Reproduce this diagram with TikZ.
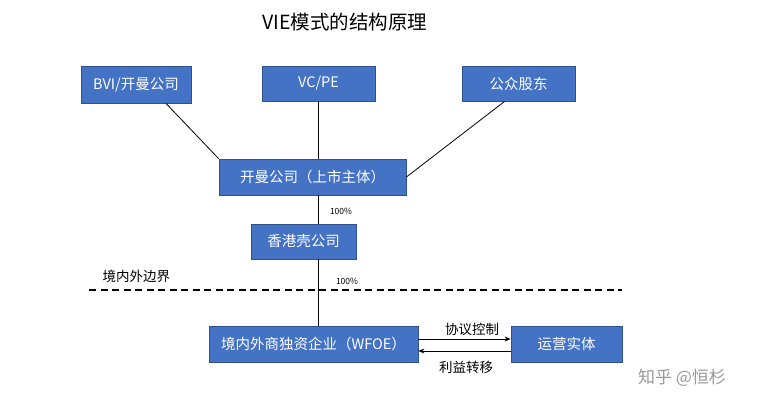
\documentclass[tikz,border=0pt]{standalone}
\usepackage{fontspec}
\setmainfont{Noto Sans CJK SC}
\usetikzlibrary{arrows.meta}
\definecolor{boxblue}{HTML}{4472C4}
\definecolor{boxedge}{HTML}{2F528F}
\tikzset{
  ent/.style={draw=boxedge, fill=boxblue, text=white, font=\fontsize{14.5}{16}\selectfont, inner sep=0pt, line width=0.8pt},
  link/.style={line width=0.8pt, black},
  pct/.style={font=\fontsize{8.5}{10}\selectfont},
  lbl/.style={font=\fontsize{13.5}{15}\selectfont},
  flow/.style={line width=0.8pt, -{Stealth[length=6pt,width=5pt]}}
}
\begin{document}
\begin{tikzpicture}[x=1pt,y=-1pt]
\useasboundingbox[fill=white] (0,0) rectangle (760,408);
\node[font=\fontsize{19.5}{22}\selectfont] (title) at (345,22) {VIE模式的结构原理};
\node[ent, minimum width=110pt, minimum height=37pt] (bvi) at (136,84.5) {BVI/开曼公司};
\node[ent, minimum width=113pt, minimum height=35pt] (vc) at (318.5,83.5) {VC/PE};
\node[ent, minimum width=113pt, minimum height=35pt] (pub) at (518.5,83.5) {公众股东};
\node[ent, minimum width=187pt, minimum height=36pt] (cay) at (312.5,177) {开曼公司（上市主体）};
\node[ent, minimum width=105pt, minimum height=35pt] (hk) at (303.5,241.5) {香港壳公司};
\node[ent, minimum width=209pt, minimum height=36pt] (wfoe) at (313.5,344) {境内外商独资企业（WFOE）};
\node[ent, minimum width=111pt, minimum height=36pt] (ops) at (566.5,344) {运营实体};
\draw[link] (bvi.south) ++(30,0) coordinate (b1) -- (cay.north west);
\draw[link] (vc.south) -- (vc.south |- cay.north);
\draw[link] (pub.south west) ++(43,0) coordinate (p1) -- (cay.east);
\draw[link] (318,195) coordinate (c2) -- (c2 |- hk.north);
\draw[link] (318,259) coordinate (h2) -- (h2 |- wfoe.north);
\node[pct] (p100a) at (341,211) {100\%};
\node[pct] (p100b) at (347,281) {100\%};
\coordinate (dl) at (89,290);
\coordinate (dr) at (622,290);
\draw[line width=1.4pt, dash pattern=on 7pt off 4.5pt] (dl) -- (dr);
\node[lbl, anchor=west] (border) at (99,276) {境内外边界};
\draw[flow] (wfoe.east |- 0,339) -- (ops.west |- 0,339);
\draw[flow] (ops.west |- 0,351) -- (wfoe.east |- 0,351);
\node[lbl] (ctl) at (472,329) {协议控制};
\node[lbl] (ben) at (466,367) {利益转移};
\node[font=\fontsize{17}{19}\selectfont, text=black!40] (wm) at (682,378) {知乎 @恒杉};
\end{tikzpicture}
\end{document}
